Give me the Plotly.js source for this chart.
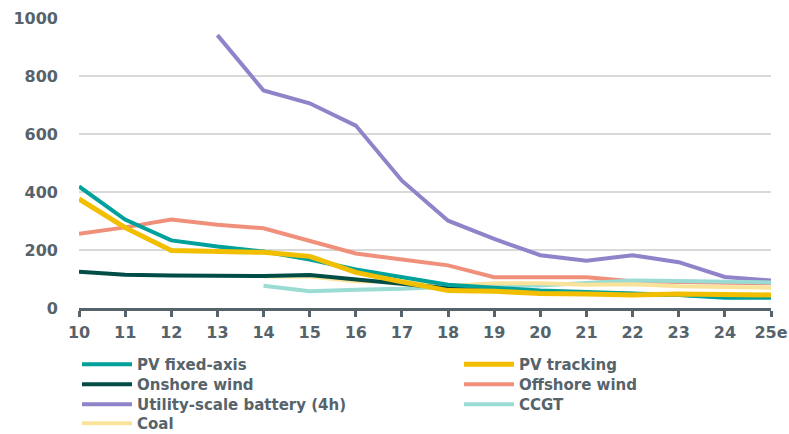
<!DOCTYPE html>
<html><head><meta charset="utf-8">
<script src="https://cdn.plot.ly/plotly-3.0.1.min.js"></script>
<style>body{margin:0;background:#fff}#c{width:789px;height:434px}</style>
</head><body><div id="c"></div>
<script>
const years = [10,11,12,13,14,15,16,17,18,19,20,21,22,23,24,25];
const tickLabels = ["10","11","12","13","14","15","16","17","18","19","20","21","22","23","24","25e"];
const pvFixed   = [419,305,233,212,195,167,133,105,80,70,60,55,50,45,35,35];
const pvTracking= [376,277,198,197,192,178,123,90,60,58,50,48,45,48,45,45];
const onshore   = [125,115,112,110,110,114,98,85,68,62,55,52,48,46,38,38];
const offshore  = [256,278,305,287,275,233,188,167,147,106,106,106,92,90,86,85];
const battery   = [null,null,null,941,750,706,629,439,301,238,182,163,182,158,107,95];
const ccgt      = [null,null,null,null,77,58,63,66,73,78,78,85,95,93,90,88];
const coal      = [null,null,null,null,109,109,92,90,76,85,85,80,82,75,72,70];

const names = ["PV fixed-axis","PV tracking","Onshore wind","Offshore wind","Utility-scale battery (4h)","CCGT","Coal"];
const series = [pvFixed,pvTracking,onshore,offshore,battery,ccgt,coal];
const colors = ["#00A19A","#F2BE00","#004D47","#F0907A","#9183C9","#9ADBD3","#F9E39A"];
const widths = [4,5,4,4,4,4,4];

const W = 789, H = 434, ML = 79, MR = 18, MT = 18, MB = 126;
const plotW = W - ML - MR, plotH = H - MT - MB;
// legend slot for each series: [left px of sample, text-center y px]
const legendSlots = [[82,363],[464,363],[82,383],[464,383],[82,403],[464,403],[82,422]];

const legendKeys = names.map((_, i) => i === 0 ? 'legend' : 'legend' + (i + 1));
const traces = series.map((s,i)=>({
  x: years, y: s, name: names[i], type:'scatter', mode:'lines',
  line:{color:colors[i], width:widths[i]}, connectgaps:false,
  legend: legendKeys[i]
}));
const drawOrder = [3,4,5,6,2,0,1];
const ordered = drawOrder.map(i=>traces[i]);

const txt = '#56636B';
const layout = {
  width:W, height:H,
  margin:{l:ML, r:MR, t:MT, b:MB, autoexpand:false},
  paper_bgcolor:'#fff', plot_bgcolor:'#fff',
  font:{family:'"DejaVu Sans", sans-serif', color:txt, size:15},
  xaxis:{range:[10,25], tickvals:years, ticktext:tickLabels, showgrid:false, zeroline:false,
    showline:true, linecolor:txt, linewidth:3, ticks:'outside', ticklen:6, tickwidth:3, tickcolor:txt,
    ticklabelstandoff:2,
    tickfont:{size:16, color:txt, weight:'bold'}, fixedrange:true},
  yaxis:{range:[0,1000], tickvals:[0,200,400,600,800,1000], showgrid:true, gridcolor:'#D9D9D9', gridwidth:1.5,
    zeroline:false, showline:false, ticks:'', ticklabelstandoff:20,
    tickfont:{size:16, color:txt, weight:'bold'}},
  showlegend:true
};
legendKeys.forEach((k,i)=>{
  const [sx, cy] = legendSlots[i];
  layout[k] = {
    x:(sx - 5 - ML)/plotW, xanchor:'left',
    y:-((cy - 15) - (H - MB))/plotH, yanchor:'top',
    itemwidth:50, bgcolor:'rgba(0,0,0,0)', borderwidth:0,
    font:{size:15, color:txt, weight:'bold', family:'"DejaVu Sans", sans-serif'}
  };
});
Plotly.newPlot('c', ordered, layout, {staticPlot:true});
</script></body></html>
